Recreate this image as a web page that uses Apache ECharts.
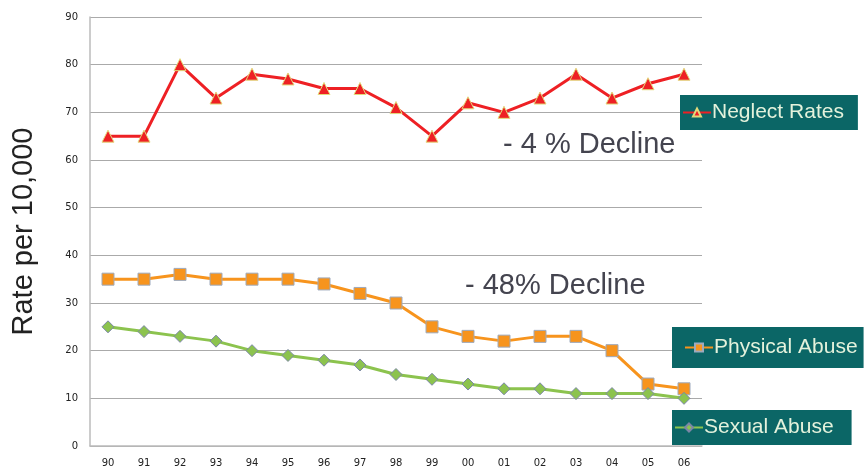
<!DOCTYPE html>
<html>
<head>
<meta charset="utf-8">
<script src="https://cdn.jsdelivr.net/npm/echarts@6/dist/echarts.min.js"></script>
<style>
  html, body { margin: 0; padding: 0; background: #fff; }
  #chart { width: 866px; height: 476px; }
</style>
</head>
<body>
<div id="chart"></div>
<script>
const years = ['90', '91', '92', '93', '94', '95', '96', '97', '98', '99', '00', '01', '02', '03', '04', '05', '06'];
const neglect = [65, 65, 80, 73, 78, 77, 75, 75, 71, 65, 72, 70, 73, 78, 73, 76, 78];
const physical = [35, 35, 36, 35, 35, 35, 34, 32, 30, 25, 23, 22, 23, 23, 20, 13, 12];
const sexual = [25, 24, 23, 22, 20, 19, 18, 17, 15, 14, 13, 12, 12, 11, 11, 11, 10];

const chart = echarts.init(document.getElementById('chart'));

// teal boxes on the right, one per series
const legendBox = (name, left, top, pad) => ({
    data: [name],
    left: left,
    top: top,
    orient: 'horizontal',
    backgroundColor: '#0b6666',
    padding: pad,
    itemGap: 0,
    itemWidth: 28,
    itemHeight: 10,
    textStyle: { color: '#e4f2dc', fontSize: 21, fontFamily: 'Liberation Sans, Arial, sans-serif', padding: [0, 0, 0, -4] },
    selectedMode: false
});

chart.setOption({
    animation: false,
    grid: { left: 90, right: 164, top: 17, bottom: 30, outerBoundsMode: 'none' },
    xAxis: {
        type: 'category',
        data: years,
        boundaryGap: true,
        axisLine: { lineStyle: { color: '#bbbbbb', width: 1.5 } },
        axisTick: { show: false },
        axisLabel: { color: '#222', fontSize: 10, fontFamily: 'DejaVu Sans, sans-serif', margin: 12 }
    },
    yAxis: {
        type: 'value',
        min: 0,
        max: 90,
        interval: 10,
        name: 'Rate per 10,000',
        nameLocation: 'middle',
        nameGap: 52,
        nameTextStyle: { color: '#222', fontSize: 29, fontFamily: 'Liberation Sans, Arial, sans-serif' },
        axisLine: { show: true, lineStyle: { color: '#bbbbbb', width: 1.5 } },
        axisTick: { show: false },
        splitLine: { lineStyle: { color: '#aaaaaa', width: 1 } },
        axisLabel: { color: '#222', fontSize: 10, fontFamily: 'DejaVu Sans, sans-serif', margin: 12 }
    },
    legend: [
        legendBox('Neglect Rates', 680, 95, [7, 14, 7, 2]),
        legendBox('Physical Abuse', 672, 327, [10, 6, 10, 12]),
        legendBox('Sexual Abuse', 672, 410, [7, 18, 7, 2])
    ],
    graphic: [
        {
            type: 'text', left: 503, top: 130,
            style: { text: '- 4 % Decline', fill: '#44444f', font: '29px Liberation Sans, Arial, sans-serif' }
        },
        {
            type: 'text', left: 465, top: 271,
            style: { text: '- 48% Decline', fill: '#44444f', font: '29px Liberation Sans, Arial, sans-serif' }
        }
    ],
    series: [
        {
            name: 'Neglect Rates',
            type: 'line',
            data: neglect,
            symbol: 'triangle',
            symbolSize: 12,
            lineStyle: { color: '#ee2024', width: 3 },
            itemStyle: { color: '#ee2024', borderColor: '#e2d97a', borderWidth: 1 }
        },
        {
            name: 'Physical Abuse',
            type: 'line',
            data: physical,
            symbol: 'rect',
            symbolSize: 12,
            lineStyle: { color: '#f7941d', width: 3 },
            itemStyle: { color: '#f7941d', borderColor: '#9eaabd', borderWidth: 1 }
        },
        {
            name: 'Sexual Abuse',
            type: 'line',
            data: sexual,
            symbol: 'diamond',
            symbolSize: 12,
            lineStyle: { color: '#8cc34e', width: 3 },
            itemStyle: { color: '#8cc34e', borderColor: '#7b86a6', borderWidth: 1 }
        }
    ]
});
</script>
</body>
</html>
